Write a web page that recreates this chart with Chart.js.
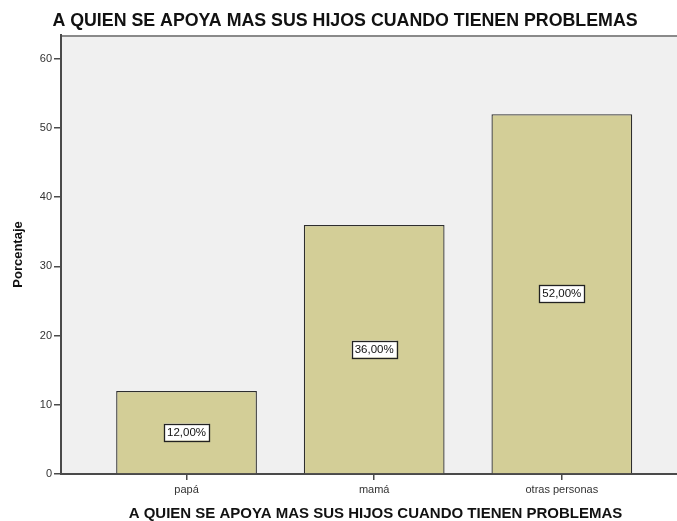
<!DOCTYPE html>
<html>
<head>
<meta charset="utf-8">
<script src="https://cdn.jsdelivr.net/npm/chart.js@4/dist/chart.umd.min.js"></script>
<style>
  html, body { margin: 0; padding: 0; background: #fff; overflow: hidden; }
  #wrap { width: 690px; height: 521px; }
</style>
</head>
<body>
<div id="wrap"><canvas id="chart" width="690" height="521"></canvas></div>
<script>
// datos
const categorias = ['papá', 'mamá', 'otras personas'];
const porcentajes = [12, 36, 52];
const etiquetas = ['12,00%', '36,00%', '52,00%'];
const ticksY = [0, 10, 20, 30, 40, 50, 60];
const titulo = 'A QUIEN SE APOYA MAS SUS HIJOS CUANDO TIENEN PROBLEMAS';

const FONT = 'Arial, "Liberation Sans", sans-serif';
const EJE = '#4a4a4a';

// fondo gris del area de trazado + borde sup/der
const fondo = {
  id: 'fondo',
  beforeDraw(ch) {
    const a = ch.chartArea, c = ch.ctx;
    c.save();
    c.fillStyle = '#f0f0f0';
    c.fillRect(a.left, a.top, a.right - a.left, a.bottom - a.top);
    c.strokeStyle = '#8a8a8a';
    c.lineWidth = 2;
    c.beginPath();
    c.moveTo(a.left, a.top + 1);
    c.lineTo(a.right - 1, a.top + 1);
    c.lineTo(a.right - 1, a.bottom);
    c.stroke();
    c.restore();
  }
};

// cajitas con el porcentaje en el medio de cada barra
const cajas = {
  id: 'cajas',
  afterDatasetsDraw(ch) {
    const c = ch.ctx;
    c.save();
    c.font = '11.5px ' + FONT;
    c.textAlign = 'center';
    c.textBaseline = 'middle';
    ch.getDatasetMeta(0).data.forEach((b, i) => {
      const t = etiquetas[i];
      const w = c.measureText(t).width + 6, h = 17;
      const x = b.x, y = (b.y + b.base) / 2;
      c.fillStyle = '#fff';
      c.fillRect(x - w / 2, y - h / 2, w, h);
      c.strokeStyle = '#222';
      c.lineWidth = 1.3;
      c.strokeRect(Math.round(x - w / 2) + 0.5, Math.round(y - h / 2) + 0.5, Math.round(w), h);
      c.fillStyle = '#111';
      c.fillText(t, x, y + 0.5);
    });
    c.restore();
  }
};

new Chart(document.getElementById('chart'), {
  type: 'bar',
  data: {
    datasets: [{
      data: categorias.map((c, i) => ({ x: i, y: porcentajes[i] })),
      backgroundColor: 'rgb(211,206,151)',
      borderColor: '#2e2e2e',
      borderWidth: 1.3,
      barPercentage: 0.75,
      categoryPercentage: 1
    }]
  },
  options: {
    responsive: false,
    animation: false,
    layout: { padding: { left: 0, right: 0, top: 0, bottom: 0 } },
    plugins: {
      legend: { display: false },
      tooltip: { enabled: false },
      title: {
        display: true,
        text: titulo,
        color: '#111',
        font: { family: FONT, size: 17.8, weight: 'bold', lineHeight: 1.2 },
        padding: { top: 10, bottom: 3.6 }
      }
    },
    scales: {
      x: {
        type: 'linear',
        offset: false,
        min: -0.669,
        max: 2.683,
        afterBuildTicks: s => { s.ticks = categorias.map((c, i) => ({ value: i })); },
        afterFit: s => { s.height = 47; },
        ticks: {
          callback: v => categorias[v],
          color: '#333',
          font: { family: FONT, size: 11 },
          padding: 3,
          maxRotation: 0
        },
        grid: { offset: false, drawOnChartArea: false, drawTicks: true, tickLength: 6, color: EJE, lineWidth: 1.5 },
        border: { display: true, color: EJE, width: 2 },
        title: {
          display: true,
          text: titulo,
          color: '#111',
          font: { family: FONT, size: 15, weight: 'bold' },
          padding: { top: 0, bottom: -2 }
        }
      },
      y: {
        min: 0,
        max: 63.45,
        afterBuildTicks: s => { s.ticks = ticksY.map(v => ({ value: v })); },
        afterFit: s => { s.width = 61; },
        ticks: {
          color: '#333',
          font: { family: FONT, size: 11 },
          padding: 2
        },
        grid: { drawOnChartArea: false, drawTicks: true, tickLength: 7, color: EJE, lineWidth: 1.5 },
        border: { display: true, color: EJE, width: 2 },
        title: {
          display: true,
          text: 'Porcentaje',
          color: '#111',
          font: { family: FONT, size: 13, weight: 'bold' },
          padding: { top: 11, bottom: 0 }
        }
      }
    }
  },
  plugins: [fondo, cajas]
});
</script>
</body>
</html>
